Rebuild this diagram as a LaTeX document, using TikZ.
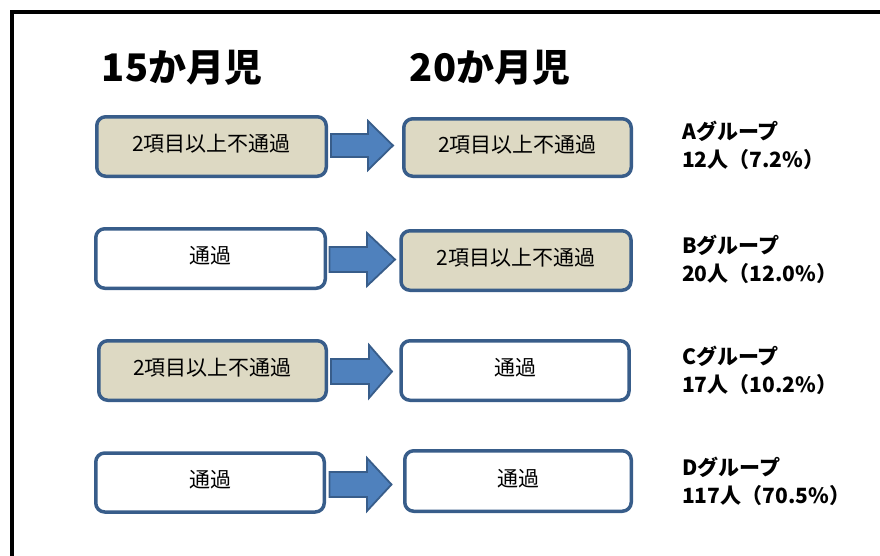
\documentclass[tikz,border=0pt]{standalone}
\usepackage{fontspec}
\setmainfont{Noto Sans CJK JP}
\definecolor{boxline}{HTML}{385D8A}
\definecolor{boxfill}{HTML}{DDD9C3}
\definecolor{arrowfill}{HTML}{4F81BD}
\begin{document}
\begin{tikzpicture}[x=1pt,y=-1pt,
  stagebox/.style={draw=boxline,line width=3.5pt,rounded corners=9pt,
    font=\fontsize{21}{24}\selectfont,inner sep=0pt,text height=16pt,text depth=6pt},
  failbox/.style={stagebox,fill=boxfill},
  passbox/.style={stagebox,fill=white},
  blockarrow/.style={draw=boxline,fill=arrowfill,line width=1.8pt,line join=miter},
  heading/.style={font=\fontsize{38}{44}\selectfont\bfseries,inner sep=0pt},
  grouplabel/.style={font=\fontsize{21}{28}\selectfont\bfseries,align=left,anchor=west,inner sep=0pt}]
\useasboundingbox (0,0) rectangle (880,555);
\fill[white] (0,0) rectangle (880,555);
% frame
\draw[line width=4pt] (11.5,560) -- (11.5,12) -- (885,12);
% headings
\node[heading] (h15) at (182,68) {15か月児};
\node[heading] (h20) at (490,68) {20か月児};
% row A
\node[failbox,minimum width=229.5pt,minimum height=59.5pt] (a1) at (211.5,146.5) {2項目以上不通過};
\node[failbox,minimum width=227.5pt,minimum height=57.5pt] (a2) at (517.5,147.5) {2項目以上不通過};
\draw[blockarrow] (331,134) -- (368,134) -- (368,121) -- (393,145.5) -- (368,170) -- (368,157) -- (331,157) -- cycle;
\node[grouplabel] (ga) at (682,145) {Aグループ\\12人（7.2\%）};
% row B
\node[passbox,minimum width=229.5pt,minimum height=59.5pt] (b1) at (210.5,258.5) {通過};
\node[failbox,minimum width=230pt,minimum height=59.5pt] (b2) at (516,260.5) {2項目以上不通過};
\draw[blockarrow] (329.5,247) -- (367,247) -- (367,233) -- (395,259.5) -- (367,286) -- (367,272) -- (329.5,272) -- cycle;
\node[grouplabel] (gb) at (682,259) {Bグループ\\20人（12.0\%）};
% row C
\node[failbox,minimum width=227.5pt,minimum height=59.5pt] (c1) at (212.5,370.5) {2項目以上不通過};
\node[passbox,minimum width=228pt,minimum height=59.5pt] (c2) at (515,370.5) {通過};
\draw[blockarrow] (331,359) -- (369,359) -- (369,345) -- (392,371.5) -- (369,398) -- (369,384) -- (331,384) -- cycle;
\node[grouplabel] (gc) at (682,370) {Cグループ\\17人（10.2\%）};
% row D
\node[passbox,minimum width=228.5pt,minimum height=59pt] (d1) at (210,482.5) {通過};
\node[passbox,minimum width=226.5pt,minimum height=60.5pt] (d2) at (518,481) {通過};
\draw[blockarrow] (329.5,472) -- (367,472) -- (367,458) -- (391.5,484.5) -- (367,511) -- (367,497) -- (329.5,497) -- cycle;
\node[grouplabel] (gd) at (682,481) {Dグループ\\117人（70.5\%）};
\end{tikzpicture}
\end{document}
